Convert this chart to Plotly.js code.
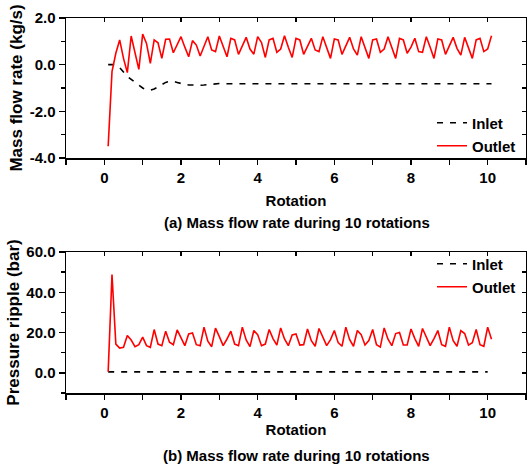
<!DOCTYPE html>
<html>
<head>
<meta charset="utf-8">
<script src="https://cdn.plot.ly/plotly-3.0.1.min.js"></script>
<style>html,body{margin:0;padding:0;background:#fff;}#chart{width:527px;height:470px;}</style>
</head>
<body>
<div id="chart"></div>
<script>
// ---- data ----
const rotation = [
  0.1,0.2,0.3,0.4,0.5,0.6,0.7,0.8,0.9,1.0,
  1.1,1.2,1.3,1.4,1.5,1.6,1.7,1.8,1.9,2.0,
  2.1,2.2,2.3,2.4,2.5,2.6,2.7,2.8,2.9,3.0,
  3.1,3.2,3.3,3.4,3.5,3.6,3.7,3.8,3.9,4.0,
  4.1,4.2,4.3,4.4,4.5,4.6,4.7,4.8,4.9,5.0,
  5.1,5.2,5.3,5.4,5.5,5.6,5.7,5.8,5.9,6.0,
  6.1,6.2,6.3,6.4,6.5,6.6,6.7,6.8,6.9,7.0,
  7.1,7.2,7.3,7.4,7.5,7.6,7.7,7.8,7.9,8.0,
  8.1,8.2,8.3,8.4,8.5,8.6,8.7,8.8,8.9,9.0,
  9.1,9.2,9.3,9.4,9.5,9.6,9.7,9.8,9.9,10.0,
  10.1
];
const massInlet = [
  0,0,0,-0.13,-0.34,-0.5,-0.63,-0.74,-0.88,-1.0,
  -1.07,-1.09,-1.04,-0.95,-0.84,-0.76,-0.72,-0.72,-0.76,-0.82,
  -0.85,-0.87,-0.88,-0.89,-0.88,-0.87,-0.85,-0.84,-0.82,-0.81,
  -0.82,-0.82,-0.82,-0.82,-0.82,-0.82,-0.82,-0.82,-0.82,-0.82,
  -0.82,-0.82,-0.82,-0.82,-0.82,-0.82,-0.82,-0.82,-0.82,-0.82,
  -0.82,-0.82,-0.82,-0.82,-0.82,-0.82,-0.82,-0.82,-0.82,-0.82,
  -0.82,-0.82,-0.82,-0.82,-0.82,-0.82,-0.82,-0.82,-0.82,-0.82,
  -0.82,-0.82,-0.82,-0.82,-0.82,-0.82,-0.82,-0.82,-0.82,-0.82,
  -0.82,-0.82,-0.82,-0.82,-0.82,-0.82,-0.82,-0.82,-0.82,-0.82,
  -0.82,-0.82,-0.82,-0.82,-0.82,-0.82,-0.82,-0.82,-0.82,-0.82,
  -0.82
];
const massOutlet = [
  -3.5,-0.3,0.49,1.06,0.27,-0.34,1.23,0.49,-0.2,1.31,
  0.91,0.06,1.06,0.94,0.27,1.09,1.1,0.51,0.85,1.2,
  0.75,0.34,1.03,0.84,0.37,0.8,1.2,0.63,0.56,1.23,
  0.75,0.34,1.13,1.06,0.44,0.8,1.17,0.67,0.45,1.2,
  0.95,0.31,1.06,1.13,0.53,0.67,1.24,0.75,0.31,1.13,
  1.06,0.44,0.8,1.13,0.63,0.56,1.2,0.75,0.27,1.1,
  1.06,0.44,0.8,1.17,0.67,0.41,1.2,0.7,0.27,1.06,
  1.1,0.53,0.67,1.2,0.75,0.27,1.13,1.06,0.49,0.75,
  1.13,0.56,0.53,1.2,0.75,0.27,1.1,1.06,0.44,0.8,
  1.17,0.7,0.41,1.17,0.7,0.27,1.06,1.13,0.56,0.67,
  1.24
];
const pressureInlet = [
  0.5,0.5,0.5,0.5,0.5,0.5,0.5,0.5,0.5,0.5,
  0.5,0.5,0.5,0.5,0.5,0.5,0.5,0.5,0.5,0.5,
  0.5,0.5,0.5,0.5,0.5,0.5,0.5,0.5,0.5,0.5,
  0.5,0.5,0.5,0.5,0.5,0.5,0.5,0.5,0.5,0.5,
  0.5,0.5,0.5,0.5,0.5,0.5,0.5,0.5,0.5,0.5,
  0.5,0.5,0.5,0.5,0.5,0.5,0.5,0.5,0.5,0.5,
  0.5,0.5,0.5,0.5,0.5,0.5,0.5,0.5,0.5,0.5,
  0.5,0.5,0.5,0.5,0.5,0.5,0.5,0.5,0.5,0.5,
  0.5,0.5,0.5,0.5,0.5,0.5,0.5,0.5,0.5,0.5,
  0.5,0.5,0.5,0.5,0.5,0.5,0.5,0.5,0.5,0.5
];
const pressureOutlet = [
  0.5,48.8,14.3,12.3,12.7,18.5,16.3,13,14,17.7,
  13.5,12.7,21.5,14.3,13.5,20.7,15.2,14,21.3,17.7,
  13.5,19.3,19.8,14,13.5,22.7,15.7,13,22.2,18,
  13.5,16.8,20.7,14.3,13.5,22.7,16.3,13,21,19,
  13.5,14.3,21.5,17,13.8,22.3,16.8,13.5,18.8,19.3,
  13.8,14,21.8,16,13.2,22,17.7,13.5,16.5,21,
  15,13.2,22.7,16.5,13.2,21,19,13.8,16,21.5,
  14,12.8,22.3,16.7,13.5,19.5,20,13.8,13.8,21.8,
  17,13.2,22,17.7,13.5,17,21,14,13.2,22.7,
  16,13.2,21,19.5,13.8,15,21.5,14,13.2,22.7,
  16.7
];
const massTickVals = [-4, -2, 0, 2];
const massTickText = ['-4.0', '-2.0', '0.0', '2.0'];
const pressTickVals = [0, 20, 40, 60];
const pressTickText = ['0.0', '20.0', '40.0', '60.0'];
const seriesNames = ['Inlet', 'Outlet'];
const captions = ['(a) Mass flow rate during 10 rotations', '(b) Mass flow rate during 10 rotations'];

// ---- styling ----
const FONT = 'Liberation Sans, Arial, sans-serif';
const bold = (size) => ({family: FONT, size: size, color: '#000', weight: 700});
const W = 527, H = 470, ML = 66, MR = 1;
const PW = W - ML - MR;
const px = (x) => (x - ML) / PW;
const py = (y) => 1 - y / H;

const traces = [
  {x: rotation, y: massInlet, name: seriesNames[0], xaxis: 'x', yaxis: 'y', mode: 'lines',
   line: {color: '#000', width: 1.6, dash: '6px,7px'}, legend: 'legend'},
  {x: rotation, y: massOutlet, name: seriesNames[1], xaxis: 'x', yaxis: 'y', mode: 'lines',
   line: {color: '#ff0000', width: 1.6}, legend: 'legend2'},
  {x: rotation.slice(0, pressureInlet.length), y: pressureInlet, name: seriesNames[0], xaxis: 'x2', yaxis: 'y2', mode: 'lines',
   line: {color: '#000', width: 1.6, dash: '6px,7px'}, legend: 'legend3'},
  {x: rotation, y: pressureOutlet, name: seriesNames[1], xaxis: 'x2', yaxis: 'y2', mode: 'lines',
   line: {color: '#ff0000', width: 1.6}, legend: 'legend4'},
  // carriers for the inward mirrored ticks
  {x: [], y: [], xaxis: 'x3', yaxis: 'y', showlegend: false, hoverinfo: 'skip'},
  {x: [], y: [], xaxis: 'x', yaxis: 'y3', showlegend: false, hoverinfo: 'skip'},
  {x: [], y: [], xaxis: 'x4', yaxis: 'y2', showlegend: false, hoverinfo: 'skip'},
  {x: [], y: [], xaxis: 'x2', yaxis: 'y4', showlegend: false, hoverinfo: 'skip'}
];

const baseX = (standoff) => ({
  range: [-1, 11], dtick: 2, tick0: 0, ticks: 'outside', ticklen: 5, tickwidth: 1.5, tickcolor: '#000',
  minor: {dtick: 1, tick0: 0, ticks: 'outside', ticklen: 5, tickwidth: 1.5, tickcolor: '#000'},
  showline: true, linecolor: '#000', linewidth: 1.5, mirror: true,
  showgrid: false, zeroline: false, tickfont: bold(15),
  title: {text: 'Rotation', font: bold(15), standoff: standoff}
});
const mirrorTicks = (extra) => Object.assign({
  ticks: 'inside', ticklen: 4, tickwidth: 1.5, tickcolor: '#000',
  showticklabels: false, showline: false, showgrid: false, zeroline: false
}, extra);

const legendBase = (yc) => ({
  x: px(432), y: py(yc), xanchor: 'left', yanchor: 'middle',
  bgcolor: 'rgba(0,0,0,0)', borderwidth: 0, font: bold(15), itemwidth: 30
});

const layout = {
  width: W, height: H,
  margin: {l: ML, r: MR, t: 0, b: 0, pad: 0},
  paper_bgcolor: '#fff', plot_bgcolor: '#fff',
  font: bold(15),
  xaxis: Object.assign(baseX(11), {anchor: 'y', domain: [0, 1]}),
  yaxis: {
    anchor: 'x', domain: [py(158), py(18)], range: [-4, 2],
    tickmode: 'array', tickvals: massTickVals, ticktext: massTickText,
    ticks: 'outside', ticklen: 6, tickwidth: 1.5, tickcolor: '#000',
    minor: {dtick: 1, tick0: 0, ticks: 'outside', ticklen: 4, tickwidth: 1.5, tickcolor: '#000'},
    showline: true, linecolor: '#000', linewidth: 1.5, mirror: true,
    showgrid: false, zeroline: false, tickfont: bold(15),
    title: {text: 'Mass flow rate (kg/s)', font: bold(17), standoff: 2}
  },
  xaxis2: Object.assign(baseX(5), {anchor: 'y2', domain: [0, 1]}),
  yaxis2: {
    anchor: 'x2', domain: [py(393), py(252)], range: [-10, 60],
    tickmode: 'array', tickvals: pressTickVals, ticktext: pressTickText,
    ticks: 'outside', ticklen: 6, tickwidth: 1.5, tickcolor: '#000',
    minor: {dtick: 10, tick0: 0, ticks: 'outside', ticklen: 4, tickwidth: 1.5, tickcolor: '#000'},
    showline: true, linecolor: '#000', linewidth: 1.5, mirror: true,
    showgrid: false, zeroline: false, tickfont: bold(15),
    title: {text: 'Pressure ripple (bar)', font: bold(17), standoff: 2}
  },
  xaxis3: mirrorTicks({overlaying: 'x', anchor: 'y', side: 'top', range: [-1, 11], dtick: 1, tick0: 0}),
  yaxis3: mirrorTicks({overlaying: 'y', anchor: 'x', side: 'right', range: [-4, 2], dtick: 1, tick0: 0}),
  xaxis4: mirrorTicks({overlaying: 'x2', anchor: 'y2', side: 'top', range: [-1, 11], dtick: 1, tick0: 0}),
  yaxis4: mirrorTicks({overlaying: 'y2', anchor: 'x2', side: 'right', range: [-10, 60], dtick: 10, tick0: 0}),
  legend: legendBase(123),
  legend2: legendBase(146),
  legend3: legendBase(264),
  legend4: legendBase(287),
  annotations: [
    {text: captions[0], xref: 'paper', yref: 'paper', x: px(296.5), y: py(223),
     xanchor: 'center', yanchor: 'middle', showarrow: false, font: bold(15)},
    {text: captions[1], xref: 'paper', yref: 'paper', x: px(296.5), y: py(455),
     xanchor: 'center', yanchor: 'middle', showarrow: false, font: bold(15)}
  ],
  showlegend: true
};

Plotly.newPlot('chart', traces, layout, {staticPlot: true, displayModeBar: false});
</script>
</body>
</html>
